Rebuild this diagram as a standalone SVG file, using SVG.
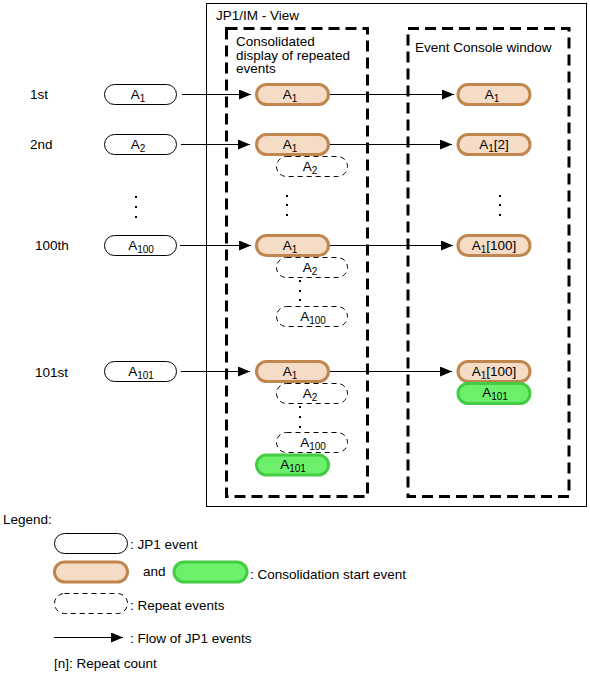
<svg xmlns="http://www.w3.org/2000/svg" width="590" height="680" viewBox="0 0 590 680">
<defs>
<style>
text{font-family:"Liberation Sans",Arial,sans-serif;font-size:13.5px;fill:#000}
.c{text-anchor:middle}
.s{font-size:10px}
.ev{fill:#fff;stroke:#000;stroke-width:1}
.br{fill:#F5DCC6;stroke:#C0864E;stroke-width:3}
.gr{fill:#6CF06C;stroke:#44CC44;stroke-width:3}
.rp{fill:#fff;stroke:#000;stroke-width:1;stroke-dasharray:5 4}
.box{fill:none;stroke:#000;stroke-width:3;stroke-dasharray:11 6}
.ln{stroke:#000;stroke-width:1;fill:none}
.dot{fill:#000}
</style>
<marker id="ah" markerUnits="userSpaceOnUse" markerWidth="14" markerHeight="10" refX="12" refY="5" orient="auto">
<path d="M0,0 L12,5 L0,10 Z" fill="#000"/>
</marker>
</defs>
<rect width="590" height="680" fill="#fff"/>

<g id="frame">
<rect x="206.5" y="3.5" width="380" height="503" fill="none" stroke="#000" stroke-width="1"/>
<text x="216" y="20">JP1/IM - View</text>
</g>
<g id="consolidated-box">
<rect x="226.5" y="28.5" width="141" height="468" class="box"/>
<text x="236" y="46">Consolidated</text>
<text x="236" y="59.5">display of repeated</text>
<text x="236" y="73">events</text>
</g>
<g id="console-box">
<rect x="408" y="28.5" width="161" height="468" class="box"/>
<text x="415" y="52">Event Console window</text>
</g>

<g id="labels">
<text x="30" y="99">1st</text>
<text x="30" y="149">2nd</text>
<text x="35" y="250">100th</text>
<text x="35" y="377">101st</text>
</g>

<g id="dots">
<rect x="135" y="196" width="2" height="2" class="dot"/>
<rect x="135" y="206" width="2" height="2" class="dot"/>
<rect x="135" y="216" width="2" height="2" class="dot"/>
<rect x="286" y="195" width="2" height="2" class="dot"/>
<rect x="286" y="204" width="2" height="2" class="dot"/>
<rect x="286" y="214" width="2" height="2" class="dot"/>
<rect x="499" y="195" width="2" height="2" class="dot"/>
<rect x="499" y="204" width="2" height="2" class="dot"/>
<rect x="499" y="214" width="2" height="2" class="dot"/>
<rect x="299" y="280" width="2" height="2" class="dot"/>
<rect x="299" y="290" width="2" height="2" class="dot"/>
<rect x="299" y="299" width="2" height="2" class="dot"/>
<rect x="299" y="406" width="2" height="2" class="dot"/>
<rect x="299" y="416" width="2" height="2" class="dot"/>
<rect x="299" y="426" width="2" height="2" class="dot"/>
</g>

<g id="connectors">
<line x1="182" y1="94.5" x2="251" y2="94.5" class="ln" marker-end="url(#ah)"/>
<line x1="330" y1="94.5" x2="454" y2="94.5" class="ln" marker-end="url(#ah)"/>
<line x1="181" y1="144.5" x2="250" y2="144.5" class="ln" marker-end="url(#ah)"/>
<line x1="330" y1="144.5" x2="452" y2="144.5" class="ln" marker-end="url(#ah)"/>
<line x1="180" y1="245.5" x2="251" y2="245.5" class="ln" marker-end="url(#ah)"/>
<line x1="330" y1="245.5" x2="453" y2="245.5" class="ln" marker-end="url(#ah)"/>
<line x1="181" y1="371.5" x2="250" y2="371.5" class="ln" marker-end="url(#ah)"/>
<line x1="330" y1="371.5" x2="452" y2="371.5" class="ln" marker-end="url(#ah)"/>
</g>

<!-- row 1 -->
<g id="in-a1"><rect x="104.5" y="84.5" width="72" height="20" rx="10" class="ev"/><text x="138" y="99" class="c">A<tspan class="s" dy="3">1</tspan></text></g>
<g id="mid1-a1"><rect x="256.5" y="84.5" width="72" height="20" rx="10" class="br"/><text x="290" y="99" class="c">A<tspan class="s" dy="3">1</tspan></text></g>
<g id="con1-a1"><rect x="458" y="84.5" width="72" height="20" rx="10" class="br"/><text x="492" y="99" class="c">A<tspan class="s" dy="3">1</tspan></text></g>

<!-- row 2 -->
<g id="in-a2"><rect x="104.5" y="134.5" width="72" height="20" rx="10" class="ev"/><text x="138" y="149" class="c">A<tspan class="s" dy="3">2</tspan></text></g>
<g id="mid2-a1"><rect x="256.5" y="134.5" width="72" height="20" rx="10" class="br"/><text x="290" y="149" class="c">A<tspan class="s" dy="3">1</tspan></text></g>
<g id="mid2-a2"><rect x="276.5" y="156.5" width="71" height="20" rx="10" class="rp"/><text x="310" y="171" class="c">A<tspan class="s" dy="3">2</tspan></text></g>
<g id="con2-a1"><rect x="458" y="134.5" width="72" height="20" rx="10" class="br"/><text x="494" y="149" class="c">A<tspan class="s" dy="3">1</tspan><tspan dy="-3">[2]</tspan></text></g>

<!-- row 100 -->
<g id="in-a100"><rect x="104.5" y="235.5" width="72" height="20" rx="10" class="ev"/><text x="141" y="250" class="c">A<tspan class="s" dy="3">100</tspan></text></g>
<g id="mid3-a1"><rect x="256.5" y="235.5" width="72" height="20" rx="10" class="br"/><text x="290" y="250" class="c">A<tspan class="s" dy="3">1</tspan></text></g>
<g id="mid3-a2"><rect x="276.5" y="257.5" width="71" height="20" rx="10" class="rp"/><text x="310" y="272" class="c">A<tspan class="s" dy="3">2</tspan></text></g>
<g id="mid3-a100"><rect x="276.5" y="306.5" width="71" height="20" rx="10" class="rp"/><text x="313" y="321" class="c">A<tspan class="s" dy="3">100</tspan></text></g>
<g id="con3-a1"><rect x="458" y="235.5" width="72" height="20" rx="10" class="br"/><text x="494" y="250" class="c">A<tspan class="s" dy="3">1</tspan><tspan dy="-3">[100]</tspan></text></g>

<!-- row 101 -->
<g id="in-a101"><rect x="104.5" y="361.5" width="72" height="20" rx="10" class="ev"/><text x="141" y="376" class="c">A<tspan class="s" dy="3">101</tspan></text></g>
<g id="mid4-a1"><rect x="256.5" y="361.5" width="72" height="20" rx="10" class="br"/><text x="290" y="376" class="c">A<tspan class="s" dy="3">1</tspan></text></g>
<g id="mid4-a2"><rect x="276.5" y="383.5" width="71" height="20" rx="10" class="rp"/><text x="310" y="398" class="c">A<tspan class="s" dy="3">2</tspan></text></g>
<g id="mid4-a100"><rect x="276.5" y="432.5" width="71" height="20" rx="10" class="rp"/><text x="313" y="447" class="c">A<tspan class="s" dy="3">100</tspan></text></g>
<g id="mid4-a101"><rect x="256.5" y="455" width="72" height="20" rx="10" class="gr"/><text x="293" y="469" class="c">A<tspan class="s" dy="3">101</tspan></text></g>
<g id="con4-a1"><rect x="458" y="361.5" width="72" height="20" rx="10" class="br"/><text x="494" y="376" class="c">A<tspan class="s" dy="3">1</tspan><tspan dy="-3">[100]</tspan></text></g>
<g id="con4-a101"><rect x="458" y="383.5" width="72" height="20" rx="10" class="gr"/><text x="495" y="397" class="c">A<tspan class="s" dy="3">101</tspan></text></g>

<g id="legend">
<text x="3" y="524">Legend:</text>
<rect x="54.5" y="533.5" width="73" height="20" rx="10" class="ev"/>
<text x="130" y="549">: JP1 event</text>
<rect x="54.5" y="562" width="73" height="20" rx="10" class="br"/>
<text x="143" y="576">and</text>
<rect x="174" y="562" width="73" height="20" rx="10" class="gr"/>
<text x="250" y="579">: Consolidation start event</text>
<rect x="54.5" y="593.5" width="73" height="20" rx="10" class="rp"/>
<text x="130" y="610">: Repeat events</text>
<line x1="54" y1="637.5" x2="123" y2="637.5" class="ln" marker-end="url(#ah)"/>
<text x="130" y="643">: Flow of JP1 events</text>
<text x="54" y="668">[n]: Repeat count</text>
</g>
</svg>
